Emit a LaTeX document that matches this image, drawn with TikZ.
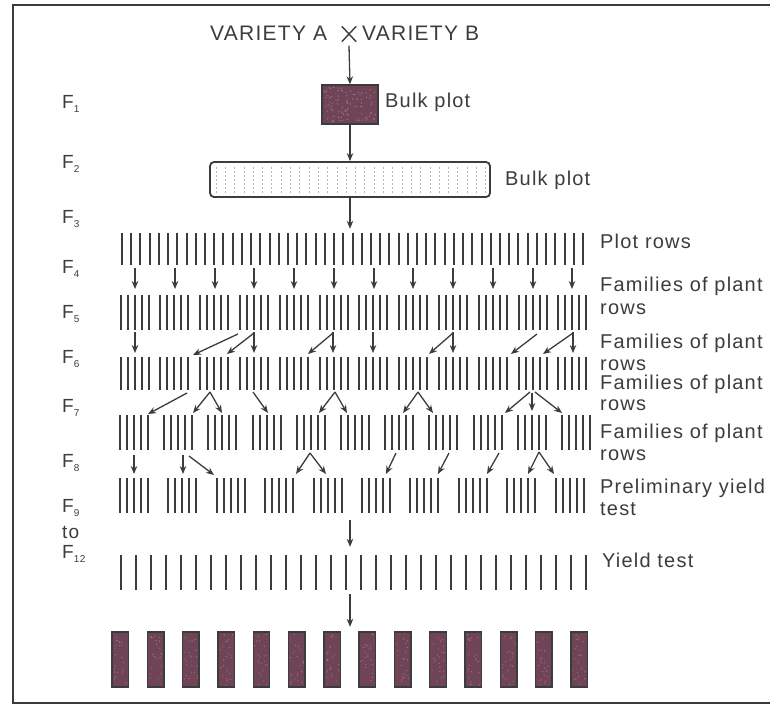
\documentclass[tikz,border=0pt]{standalone}
\usepackage{fontspec}
\setmainfont[LetterSpace=6]{Liberation Sans}
\usetikzlibrary{arrows.meta}
\definecolor{ink}{HTML}{3C3C3C}
\definecolor{plotfill}{HTML}{6E4456}
\definecolor{speck}{HTML}{B48C9C}
\newcommand\Fsub[1]{\raisebox{-4pt}{\fontsize{10}{10}\selectfont #1}}
\begin{document}
\begin{tikzpicture}[x=1pt,y=-1pt,
  lbl/.style={font=\fontsize{20}{22}\selectfont, text=ink, inner sep=0pt, anchor=base west},
  flbl/.style={font=\fontsize{19}{22}\selectfont, text=ink, inner sep=0pt, anchor=base west},
  ttl/.style={font=\fontsize{21}{24}\selectfont, text=ink, inner sep=0pt, anchor=base west},
  rowline/.style={draw=ink, line width=2pt},
  thinline/.style={draw=ink, line width=1.6pt},
  arr/.style={draw=ink, line width=1.3pt, -{Stealth[length=8pt,width=6.5pt]}},
  ghost/.style={inner sep=0pt, draw=none},
  plotbox/.style={draw=ink, fill=plotfill, line width=1.4pt, inner sep=0pt},
]
\useasboundingbox (0,0) rectangle (770,705);
% frame
\draw[ink, line width=2pt] (775,5) -- (13,5) -- (13,703) -- (775,703);

% title
\node[ttl] (va) at (210,40) {VARIETY A};
\node[ttl] (vb) at (362,40) {VARIETY B};
\node[ghost, minimum width=14pt, minimum height=15pt] (cross) at (349,34) {};
\draw[ink, line width=1.4pt] (cross.north west) -- (cross.south east);
\draw[ink, line width=1.4pt] (cross.north east) -- (cross.south west);

% F1
\node[plotbox, minimum width=56pt, minimum height=39pt] (f1box) at (350,104.5) {};
\pgfmathsetseed{7}
\foreach \k in {1,...,90} {
  \fill[speck, opacity=0.6] (324+rnd*52, 87+rnd*35) circle (0.8pt);
}
\node[lbl] (bulk1) at (385,107) {Bulk plot};
\draw[arr] ([yshift=-4pt]cross.south) -- (f1box.north);

% F2
\node[draw=ink, rounded corners=4pt, line width=1.8pt, minimum width=280pt, minimum height=35pt, inner sep=0pt] (f2box) at (350,179.5) {};
\foreach \i in {0,...,29} {
  \draw[gray!55, line width=0.8pt, dash pattern=on 1.5pt off 2.5pt] (216+9.3*\i,167) -- (216+9.3*\i,193);
}
\node[lbl] (bulk2) at (505,185) {Bulk plot};
\draw[arr] (f1box.south) -- (f2box.north);

% Row 3 (plot rows)
\node[ghost, minimum width=461pt, minimum height=32pt] (r3) at (352.5,249) {};
\foreach \i in {0,...,50} {
  \pgfmathsetmacro\xx{round(122+9.22*\i)}
  \draw[rowline] (\xx,233) -- ++(0,32);
}
\draw[arr, shorten >=4pt] (f2box.south) -- (r3.north -| f2box.south);
\node[lbl] (lplot) at (600,248) {Plot rows};

% arrows F3 -> F4
\foreach \i in {0,...,11} {
  \pgfmathsetmacro\xx{round(135+39.75*\i)}
  \draw[arr] (\xx,268) -- ++(0,21);
}

% Row 4 and Row 5 (12 groups)
\foreach \i in {0,...,11} {
  \pgfmathsetmacro\cc{round(134.5+39.8*\i)}
  \foreach \k in {-2,...,2} {
    \draw[rowline] (\cc+7*\k,295) -- ++(0,35);
    \draw[rowline] (\cc+7*\k,357) -- ++(0,33);
  }
}
\node[ghost, minimum width=466pt, minimum height=35pt] (r4) at (352,312.5) {};
\node[ghost, minimum width=466pt, minimum height=33pt] (r5) at (352,373.5) {};

% arrows F4 -> F5
\foreach \x in {135,254,333,373,453,573} { \draw[arr] (\x,332) -- (\x,353); }
\draw[arr] (254,333) -- (227,354);
\draw[arr] (238,334) -- (193,355);
\draw[arr] (333,333) -- (308,354);
\draw[arr] (453,333) -- (429,354);
\draw[arr] (537,334) -- (511,354);
\draw[arr] (573,333) -- (543,354);

% Row 6 (11 groups)
\foreach \i in {0,...,10} {
  \pgfmathsetmacro\cc{round(134+44.2*\i)}
  \foreach \k in {-2,...,2} { \draw[rowline] (\cc+7*\k,415) -- ++(0,35); }
}
\node[ghost, minimum width=470pt, minimum height=35pt] (r6) at (355,432.5) {};

% arrows F5 -> F6
\draw[arr] (187,393) -- (148,414);
\draw[arr] (210,392) -- (193,413);
\draw[arr] (210,392) -- (222,413);
\draw[arr] (253,392) -- (268,413);
\draw[arr] (335,392) -- (319,413);
\draw[arr] (335,392) -- (347,413);
\draw[arr] (418,392) -- (403,413);
\draw[arr] (418,392) -- (433,413);
\draw[arr] (530,392) -- (505,413);
\draw[arr] (532,393) -- (532,411);
\draw[arr] (535,392) -- (562,413);

% Row 7 (10 groups)
\foreach \i in {0,...,9} {
  \pgfmathsetmacro\cc{round(134+48.4*\i)}
  \foreach \k in {-2,...,2} { \draw[rowline] (\cc+7*\k,478) -- ++(0,35); }
}
\node[ghost, minimum width=464pt, minimum height=35pt] (r7) at (352,495.5) {};

% arrows F6 -> F7
\draw[arr] (134,455) -- (134,474);
\draw[arr] (183,455) -- (183,474);
\draw[arr] (189,456) -- (214,475);
\draw[arr] (310,453) -- (296,474);
\draw[arr] (310,453) -- (326,474);
\draw[arr] (396,453) -- (386,474);
\draw[arr] (449,453) -- (438,474);
\draw[arr] (499,453) -- (487,474);
\draw[arr] (539,452) -- (528,474);
\draw[arr] (539,452) -- (554,474);

% Yield test row
\node[ghost, minimum width=466pt, minimum height=35pt] (yt) at (353.5,572.5) {};
\foreach \i in {0,...,31} { \draw[thinline] (121+15*\i,555) -- ++(0,35); }
\node[lbl] (lyield) at (602,567) {Yield test};
\draw[arr, shorten <=7pt, shorten >=8pt] (r7.south -| f2box.south) -- (yt.north -| f2box.south);

% bottom plots
\node[ghost, minimum width=476pt, minimum height=55pt] (bb) at (350,659.5) {};
\foreach \i in {0,...,13} {
  \fill[plotfill] (112+35.3*\i,632) rectangle ++(16.5,55);
  \foreach \k in {1,...,22} {
    \fill[speck, opacity=0.6] (113.5+35.3*\i+rnd*13.5, 634+rnd*51) circle (0.7pt);
  }
  \draw[ink, line width=1.4pt] (112+35.3*\i,632) rectangle ++(16.5,55);
}
\draw[arr, shorten <=4pt, shorten >=5pt] (yt.south -| f2box.south) -- (bb.north -| f2box.south);

% right labels
\node[lbl] (lfam1) at (600,291.5) {Families of plant};
\node[lbl] (lrow1) at (600,314) {rows};
\node[lbl] (lfam2) at (600,348) {Families of plant};
\node[lbl] (lrow2) at (600,370) {rows};
\node[lbl] (lfam3) at (600,389) {Families of plant};
\node[lbl] (lrow3) at (600,410) {rows};
\node[lbl] (lfam4) at (600,438) {Families of plant};
\node[lbl] (lrow4) at (600,460) {rows};
\node[lbl] (lpre) at (600,493) {Preliminary yield};
\node[lbl] (ltest) at (600,515) {test};

% generation labels
\node[flbl] (g1) at (62,108) {F\Fsub{1}};
\node[flbl] (g2) at (62,168) {F\Fsub{2}};
\node[flbl] (g3) at (62,223) {F\Fsub{3}};
\node[flbl] (g4) at (62,273) {F\Fsub{4}};
\node[flbl] (g5) at (62,318) {F\Fsub{5}};
\node[flbl] (g6) at (62,363) {F\Fsub{6}};
\node[flbl] (g7) at (62,412) {F\Fsub{7}};
\node[flbl] (g8) at (62,467) {F\Fsub{8}};
\node[flbl] (g9) at (62,512) {F\Fsub{9}};
\node[flbl] (gto) at (62,538) {to};
\node[flbl] (g12) at (62,558) {F\Fsub{12}};
\end{tikzpicture}
\end{document}
